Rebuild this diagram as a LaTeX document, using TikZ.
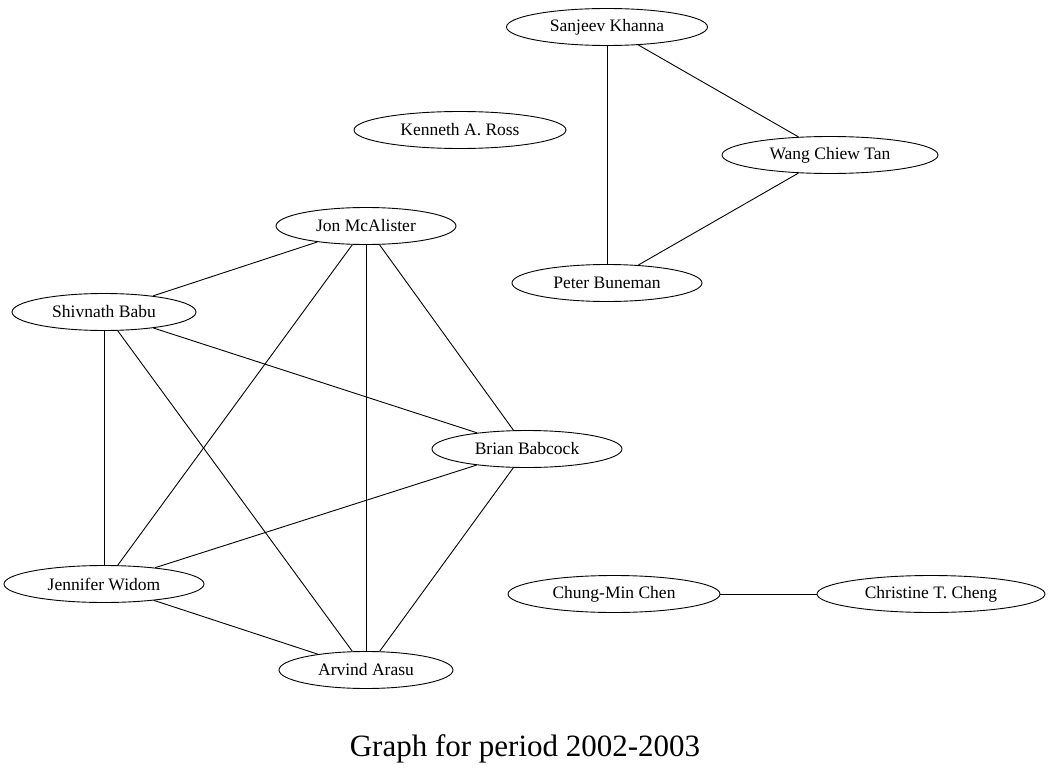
\documentclass[tikz,border=0pt]{standalone}
\usepackage{fontspec}
\setmainfont{Liberation Serif}
\usetikzlibrary{shapes.geometric}

\begin{document}
\begin{tikzpicture}[x=1pt,y=-1pt,
  person/.style={ellipse, draw, line width=0.9pt, inner sep=0pt,
    minimum height=37pt, font=\fontsize{17.5}{20}\selectfont},
  link/.style={line width=0.9pt}]
  \useasboundingbox (0,0) rectangle (1052,781);
  \node[person, minimum width=201pt] (khanna) at (607,27) {Sanjeev Khanna};
  \node[person, minimum width=212pt] (ross) at (460,130) {Kenneth A. Ross};
  \node[person, minimum width=216pt] (tan) at (830,155) {Wang Chiew Tan};
  \node[person, minimum width=180pt] (mcalister) at (366,226) {Jon McAlister};
  \node[person, minimum width=190pt] (buneman) at (607,283) {Peter Buneman};
  \node[person, minimum width=184pt] (babu) at (104,312) {Shivnath Babu};
  \node[person, minimum width=190pt] (babcock) at (527,449) {Brian Babcock};
  \node[person, minimum width=212pt] (chen) at (614,594) {Chung-Min Chen};
  \node[person, minimum width=228pt] (cheng) at (931,594) {Christine T. Cheng};
  \node[person, minimum width=200pt] (widom) at (104,584) {Jennifer Widom};
  \node[person, minimum width=174pt] (arasu) at (366,670) {Arvind Arasu};
  \node[font=\fontsize{31}{36}\selectfont] (title) at (525,749) {Graph for period 2002-2003};
  \draw[link] (khanna) -- (tan);
  \draw[link] (khanna) -- (buneman);
  \draw[link] (tan) -- (buneman);
  \draw[link] (mcalister) -- (babu);
  \draw[link] (mcalister) -- (widom);
  \draw[link] (mcalister) -- (arasu);
  \draw[link] (mcalister) -- (babcock);
  \draw[link] (babu) -- (babcock);
  \draw[link] (babu) -- (widom);
  \draw[link] (babu) -- (arasu);
  \draw[link] (babcock) -- (widom);
  \draw[link] (babcock) -- (arasu);
  \draw[link] (widom) -- (arasu);
  \draw[link] (chen) -- (cheng);
\end{tikzpicture}
\end{document}
